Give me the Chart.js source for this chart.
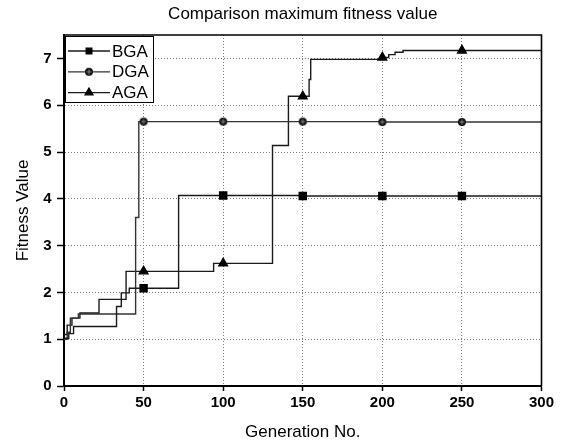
<!DOCTYPE html>
<html>
<head>
<meta charset="utf-8">
<title>Comparison maximum fitness value</title>
<script src="https://cdn.jsdelivr.net/npm/chart.js@4.4.1/dist/chart.umd.min.js"></script>
<style>
  html, body { margin: 0; padding: 0; background: #fff; }
</style>
</head>
<body>
<canvas id="fitnessChart" width="565" height="441"></canvas>
<script>
// generation where the best value changes, and the value from that generation on
var bgaGen = [0, 3, 6, 33, 36, 41, 50, 72, 100, 150, 200, 250, 300];
var bgaFit = [1.02, 1.12, 1.27, 1.70, 1.99, 2.09, 2.09, 4.07, 4.07, 4.06, 4.06, 4.06, 4.06];

var dgaGen = [0, 2, 4, 9, 45, 47, 50, 100, 150, 200, 250, 300];
var dgaFit = [1.00, 1.15, 1.45, 1.54, 3.60, 5.65, 5.65, 5.65, 5.65, 5.64, 5.64, 5.63];

var agaGen = [0, 2, 5, 10, 22, 39, 50, 94, 100, 131, 141, 150, 154, 155, 200, 204, 208, 213, 250, 300];
var agaFit = [1.10, 1.30, 1.45, 1.56, 1.85, 2.45, 2.45, 2.62, 2.62, 5.14, 6.19, 6.19, 6.55, 6.98, 7.02, 7.08, 7.13, 7.17, 7.17, 7.18];

var xTicks = [0, 50, 100, 150, 200, 250, 300];
var yTicks = [0, 1, 2, 3, 4, 5, 6, 7];

var FONT = '"Liberation Sans", Arial, Helvetica, sans-serif';
Chart.defaults.font.family = FONT;
Chart.defaults.color = '#000';

// circle with a light cross, like the reference marker
function makeCircleMarker(r) {
    var c = document.createElement('canvas');
    c.width = c.height = 2 * r + 2;
    var g = c.getContext('2d');
    var m = r + 1;
    g.fillStyle = '#111';
    g.beginPath(); g.arc(m, m, r, 0, Math.PI * 2); g.fill();
    g.strokeStyle = '#888'; g.lineWidth = 1;
    g.beginPath();
    g.moveTo(m - r + 1.5, m); g.lineTo(m + r - 1.5, m);
    g.moveTo(m, m - r + 1.5); g.lineTo(m, m + r - 1.5);
    g.stroke();
    return c;
}
var circleMarker = makeCircleMarker(4);

function toPoints(gen, fit) {
    return gen.map(function (g, i) { return {x: g, y: fit[i]}; });
}

// markers only every 50 generations
function markerRadius(r) {
    return function (ctx) {
        var x = ctx.raw && ctx.raw.x;
        return (x % 50 === 0 && x > 0 && x < 300) ? r : 0;
    };
}

// frame on top/right plus the boxed legend in the upper left corner
var frameAndLegend = {
    id: 'frameAndLegend',
    afterDatasetsDraw: function (chart) {
        var ctx = chart.ctx, a = chart.chartArea;
        ctx.save();
        ctx.strokeStyle = '#000';
        ctx.lineWidth = 1.6;
        ctx.beginPath();
        ctx.moveTo(a.left, a.top);
        ctx.lineTo(a.right, a.top);
        ctx.lineTo(a.right, a.bottom);
        ctx.stroke();

        var x0 = a.left + 1, y0 = a.top + 1, w = 88, h = 66;
        ctx.fillStyle = '#fff';
        ctx.fillRect(x0, y0, w, h);
        ctx.lineWidth = 1;
        ctx.strokeRect(x0 + 0.5, y0 + 0.5, w, h);

        chart.data.datasets.forEach(function (ds, i) {
            var y = y0 + 15 + i * 20.8;
            ctx.strokeStyle = ds.borderColor;
            ctx.lineWidth = 1.3;
            ctx.beginPath();
            ctx.moveTo(x0 + 3, y);
            ctx.lineTo(x0 + 45, y);
            ctx.stroke();
            ctx.fillStyle = '#000';
            ctx.strokeStyle = '#000';
            Chart.helpers.drawPoint(ctx, {
                pointStyle: ds.legendStyle === 'circle' ? circleMarker : ds.legendStyle,
                radius: ds.legendStyle === 'triangle' ? 4.5 : 4,
                rotation: 0,
                borderWidth: 1
            }, x0 + 24, y);
            ctx.fillStyle = '#000';
            ctx.font = '17px ' + FONT;
            ctx.textBaseline = 'middle';
            ctx.textAlign = 'left';
            ctx.fillText(ds.label, x0 + 47, y + 1);
        });
        ctx.restore();
    }
};

var ctx = document.getElementById('fitnessChart').getContext('2d');
new Chart(ctx, {
    type: 'line',
    data: {
        datasets: [{
            label: 'BGA',
            data: toPoints(bgaGen, bgaFit),
            borderColor: '#1a1a1a',
            borderWidth: 1.4,
            stepped: 'before',
            pointStyle: 'rect',
            pointRadius: markerRadius(5),
            pointBackgroundColor: '#000',
            pointBorderColor: '#000',
            legendStyle: 'rect'
        }, {
            label: 'DGA',
            data: toPoints(dgaGen, dgaFit),
            borderColor: '#333',
            borderWidth: 1.4,
            stepped: 'before',
            pointStyle: circleMarker,
            pointRadius: markerRadius(4),
            pointBackgroundColor: '#000',
            pointBorderColor: '#000',
            legendStyle: 'circle'
        }, {
            label: 'AGA',
            data: toPoints(agaGen, agaFit),
            borderColor: '#1a1a1a',
            borderWidth: 1.4,
            stepped: 'before',
            pointStyle: 'triangle',
            pointRadius: markerRadius(5),
            pointBackgroundColor: '#000',
            pointBorderColor: '#000',
            legendStyle: 'triangle'
        }]
    },
    options: {
        responsive: false,
        animation: false,
        devicePixelRatio: 1,
        events: [],
        layout: {
            padding: {left: 0, right: 23.5, top: 0, bottom: 0}
        },
        plugins: {
            legend: {display: false},
            tooltip: {enabled: false},
            title: {
                display: true,
                text: 'Comparison maximum fitness value',
                fullSize: false,
                color: '#000',
                font: {size: 17, weight: 'normal', lineHeight: 1.2},
                padding: {top: 4, bottom: 10.6}
            }
        },
        scales: {
            x: {
                type: 'linear',
                min: xTicks[0],
                max: xTicks[xTicks.length - 1],
                afterFit: function (scale) { scale.height = 55; },
                afterBuildTicks: function (scale) {
                    scale.ticks = xTicks.map(function (v) { return {value: v}; });
                },
                ticks: {
                    autoSkip: false,
                    maxRotation: 0,
                    padding: 3,
                    color: '#000',
                    font: {size: 15, weight: 'bold'}
                },
                grid: {
                    color: '#777',
                    lineWidth: 1,
                    tickColor: '#000',
                    tickLength: 5,
                    tickWidth: 1.5
                },
                border: {color: '#000', width: 2, dash: [1, 2]},
                title: {
                    display: true,
                    text: 'Generation No.',
                    color: '#000',
                    font: {size: 17, lineHeight: 1},
                    padding: {top: 0, bottom: 0.5}
                }
            },
            y: {
                min: 0,
                max: 7.5,
                afterFit: function (scale) { scale.width = 64; },
                afterBuildTicks: function (scale) {
                    scale.ticks = yTicks.map(function (v) { return {value: v}; });
                },
                ticks: {
                    padding: 5.5,
                    color: '#000',
                    font: {size: 15, weight: 'bold'}
                },
                grid: {
                    color: '#777',
                    lineWidth: 1,
                    tickColor: '#000',
                    tickLength: 7,
                    tickWidth: 1.5
                },
                border: {color: '#000', width: 2, dash: [1, 2]},
                title: {
                    display: true,
                    text: 'Fitness Value',
                    color: '#000',
                    font: {size: 17, lineHeight: 1.2},
                    padding: {top: 13, bottom: 0}
                }
            }
        }
    },
    plugins: [frameAndLegend]
});
</script>
</body>
</html>
